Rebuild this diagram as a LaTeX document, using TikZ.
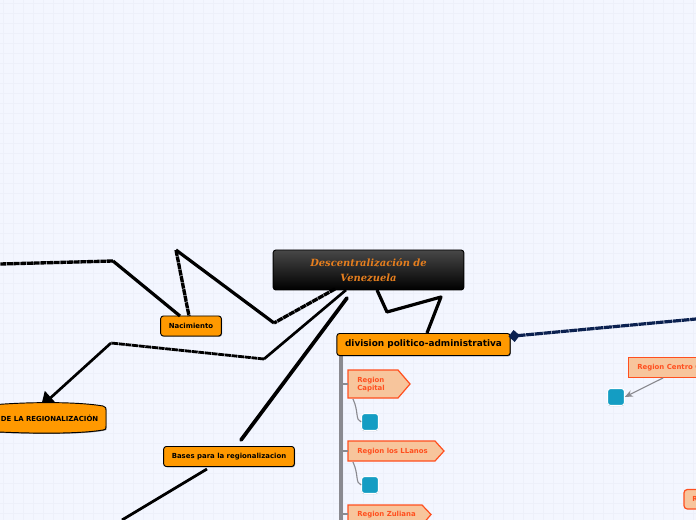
\documentclass[tikz,border=0pt]{standalone}
\usepackage{fontspec}
\setmainfont{DejaVu Sans}
\newfontfamily\titlefont{DejaVu Serif}
\usetikzlibrary{arrows.meta,shapes.geometric,shadows}
\definecolor{bgc}{HTML}{F3F6FF}
\definecolor{gridc}{HTML}{EDF0FA}
\definecolor{orangec}{HTML}{FF9900}
\definecolor{titlec}{HTML}{E57E1E}
\definecolor{redc}{HTML}{FF4F1F}
\definecolor{peach}{HTML}{F7C59C}
\definecolor{tealc}{HTML}{149DC3}
\definecolor{navyc}{HTML}{0B2150}
\definecolor{greyc}{HTML}{8A8A90}
\tikzset{
  x=0.75pt,y=-0.75pt,
  wire/.style={draw=black,line width=2.4pt,line join=round},
  dashwire/.style={wire,line width=2.5pt,dash pattern=on 4.5pt off 0.5pt},
  softshadow/.style={drop shadow={shadow xshift=0.5pt,shadow yshift=-0.6pt,opacity=.45,fill=black}},
  orangebox/.style={draw=black,line width=0.7pt,fill=orangec,rounded corners=2pt,font=\bfseries\fontsize{5.2pt}{6pt}\selectfont,inner sep=0pt,align=center,softshadow},
  regionbox/.style={draw=redc,line width=0.9pt,fill=peach,text=redc,font=\bfseries\fontsize{5.2pt}{7pt}\selectfont,align=left},
  regionshape/.style={draw=redc,line width=0.9pt,fill=peach},
  regiontext/.style={text=redc,font=\bfseries\fontsize{5.2pt}{6.2pt}\selectfont,align=left,anchor=west,inner sep=0pt},
  tealbox/.style={draw=white,line width=0.7pt,fill=tealc,rounded corners=2pt,minimum size=12.5pt,inner sep=0pt,drop shadow={shadow xshift=0pt,shadow yshift=-0.6pt,opacity=.25,fill=black}},
  trunk/.style={draw=greyc,line width=2.4pt},
  thin connector/.style={draw=greyc,line width=0.85pt}
}
\begin{document}
\begin{tikzpicture}
\useasboundingbox (0,0) rectangle (696,520);
\clip (0,0) rectangle (696,520);
\fill[bgc] (0,0) rectangle (696,520);
\foreach \g in {3,13,...,700}{\draw[gridc,line width=0.45pt] (\g,0) -- (\g,520);}
\foreach \g in {3,13,...,520}{\draw[gridc,line width=0.45pt] (0,\g) -- (696,\g);}

% trunk
\coordinate (trunkA) at (341,355);
\coordinate (trunkB) at (341,520);
\draw[trunk] (trunkA) -- (trunkB);
\coordinate (b1) at (341,384);
\coordinate (b2) at (341,451);
\coordinate (b3) at (341,514);

% thick connector under the barrel node
\coordinate (r1) at (346,290);
\coordinate (r2) at (264,359);
\coordinate (r3) at (111,343);
\coordinate (r4) at (41,406.5);
\draw[wire,line width=2pt] (r1) -- (r2);
\draw[dashwire,line width=2.1pt] (r2) -- (r3);
\draw[wire,line width=2pt,-{Triangle[length=10pt,width=13pt]}] (r3) -- (r4);

% nodes
\node[draw=black,line width=0.7pt,rounded corners=2pt,top color=black!72,bottom color=black,minimum width=143pt,minimum height=30pt,inner sep=0pt,align=center,text=titlec,font=\titlefont\bfseries\itshape\fontsize{7.45pt}{11.3pt}\selectfont] (main) at (368.5,270) {Descentralización de\\Venezuela};
\node[orangebox,minimum width=45.5pt,minimum height=15pt] (nac) at (191,326) {Nacimiento};
\node[orangebox,minimum width=98pt,minimum height=15pt] (bases) at (229,456.5) {Bases para la regionalizacion};
\node[orangebox,minimum width=130pt,minimum height=16.5pt,font=\bfseries\fontsize{6.7pt}{8pt}\selectfont] (div) at (423.5,344.5) {\raisebox{-0.7pt}{division politico-administrativa}};

% barrel node
\path[draw=black,line width=0.7pt,fill=orangec,softshadow] (-20,406) .. controls (30,401) and (80,402) .. (103,406) .. controls (106,407) and (106,408) .. (106,410) -- (106,426) .. controls (106,429) and (106,430) .. (103,430) .. controls (80,434) and (30,434) .. (-20,431) -- cycle;
\node[font=\bfseries\fontsize{5.2pt}{6pt}\selectfont,anchor=east,inner sep=0pt] (reg) at (98.5,418) {DE LA REGIONALIZACIÓN};

% region pentagons
\path[regionshape] (348,370) -- (398,370) -- (410,384) -- (398,398) -- (348,398) -- cycle;
\node[regiontext] (cap) at (357,384.5) {Region\\Capital};
\path[regionshape] (348,441) -- (435,441) -- (444,451) -- (435,461) -- (348,461) -- cycle;
\node[regiontext] (lla) at (357,451.5) {Region los LLanos};
\path[regionshape] (348,505) -- (422,505) -- (431,514.5) -- (422,525) -- (348,525) -- cycle;
\node[regiontext] (zul) at (357,514.5) {Region Zuliana};
\draw[trunk,line width=2pt] (b1) -- (348,384);
\draw[trunk,line width=2pt] (b2) -- (348,451);
\draw[trunk,line width=2pt] (b3) -- (348,514);

\node[tealbox] (t1) at (370,422) {};
\node[tealbox] (t2) at (370,485) {};
\node[tealbox] (t3) at (616,397) {};
\coordinate (c1) at (353,399);
\coordinate (c2) at (353,462);
\draw[thin connector] (c1) .. controls (359,412) and (355,420) .. (t1.west);
\draw[thin connector] (c2) .. controls (359,475) and (355,483) .. (t2.west);

\path[regionshape] (628.5,357.5) rectangle (710,377.5);
\node[regiontext] (cen) at (637,367.5) {Region Centro O};
\coordinate (cenb) at (663,378);
\draw[thin connector,-{Stealth[length=6pt,width=5pt]}] (cenb) -- (t3.east);
\path[regionshape,rounded corners=2.5pt] (684,489.5) rectangle (720,509);
\node[regiontext] (reg2) at (692,499) {R};

% thick connectors
\coordinate (p1) at (335,289);
\coordinate (p2) at (274,323);
\coordinate (p3) at (176,250);
\coordinate (p4) at (189,316);
\draw[dashwire] (p1) -- (p2);
\draw[wire] (p2) -- (p3);
\draw[dashwire] (p3) -- (p4);
\coordinate (q1) at (180,316);
\coordinate (q2) at (113,261);
\coordinate (q3) at (0,264);
\draw[wire] (q1) -- (q2);
\draw[dashwire] (q2) -- (q3);
\coordinate (s1) at (347,298);
\coordinate (s2) at (241,440);
\draw[wire,line width=2.8pt,line cap=round] (s1) -- (s2);
\coordinate (u1) at (207,469);
\coordinate (u2) at (122,520);
\draw[wire,line width=2.1pt] (u1) -- (u2);
\coordinate (v1) at (377,290);
\coordinate (v2) at (387,312);
\coordinate (v3) at (441,297);
\coordinate (v4) at (427,333);
\draw[wire] (v1) -- (v2) -- (v3) -- (v4);
\coordinate (w1) at (696,319);
\coordinate (w2) at (508.5,336.5);
\draw[wire,draw=navyc,line width=2.4pt,dash pattern=on 6pt off 0.5pt,{Diamond[length=8.5pt,width=9pt,fill=navyc]}-] (w2) -- (w1);
\end{tikzpicture}
\end{document}
